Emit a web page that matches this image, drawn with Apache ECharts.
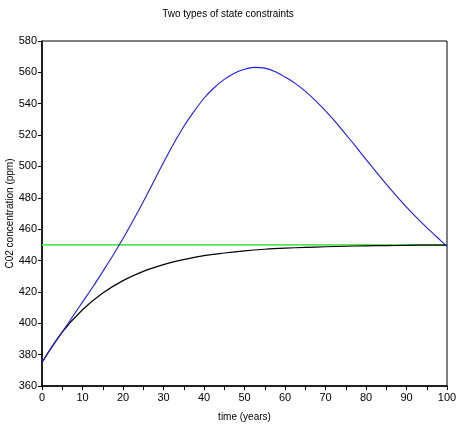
<!DOCTYPE html>
<html>
<head>
<meta charset="utf-8">
<script src="https://cdn.jsdelivr.net/npm/echarts@6/dist/echarts.min.js"></script>
<style>
  html, body { margin: 0; padding: 0; background: #fff; }
  #chart { width: 456px; height: 426px; }
</style>
</head>
<body>
<div id="chart"></div>
<script>
// values
var upperYears = [0, 2.5, 5, 7.5, 10, 12.5, 15, 17.5, 20, 22.5, 25, 27.5, 30, 32.5, 35, 37.5, 40, 42.5, 45, 47.5, 50,
                  52.5, 55, 57.5, 60, 62.5, 65, 67.5, 70, 72.5, 75, 77.5, 80, 82.5, 85, 87.5, 90, 92.5, 95, 97.5, 100];
var upperPath = [375, 385, 394.5, 404, 413.5, 423, 433, 443.2, 454, 465.5, 477.5, 490, 502.5, 514.5, 525.5, 535, 543.5, 550.2, 555.5, 559.5, 562,
                 563.2, 562.7, 560.5, 557, 553, 548, 542, 535.5, 528.3, 520.5, 512.6, 504.5, 496.5, 488.7, 481.2, 474, 467.3, 461, 455, 449];
var lowerYears = [0, 5, 10, 15, 20, 25, 30, 35, 40, 45, 50, 55, 60, 65, 70, 75, 80, 85, 90, 95, 100];
var lowerPath = [375, 394.3, 408.6, 419.3, 427.2, 433.1, 437.4, 440.6, 443.1, 444.8, 446.2, 447.2, 447.9, 448.4, 448.8, 449.1, 449.4, 449.5, 449.7, 449.8, 449.8];
var ceilingYears = [0, 100];
var ceiling = [450, 450];

function pairs(xs, ys) {
    var out = [];
    for (var i = 0; i < xs.length; i++) out.push([xs[i], ys[i]]);
    return out;
}

var myChart = echarts.init(document.getElementById('chart'));

var font = 'Liberation Sans, Arial, sans-serif';

option = {
    animation: false,
    title: {
        text: 'Two types of state constraints',
        left: 'center',
        top: 4,
        textStyle: { fontFamily: font, fontSize: 10, fontWeight: 'normal', color: '#000' }
    },
    grid: {
        left: 42,
        right: 9,
        top: 41,
        bottom: 40,
        outerBoundsMode: 'none',
        containLabel: false,
        show: true,
        borderColor: '#000',
        borderWidth: 1
    },
    xAxis: {
        type: 'value',
        min: 0,
        max: 100,
        interval: 5,
        name: 'time (years)',
        nameLocation: 'middle',
        nameGap: 26,
        nameMoveOverlap: false,
        nameTextStyle: { fontFamily: font, fontSize: 10, color: '#000' },
        axisLine: { lineStyle: { color: '#000', width: 1.5 } },
        axisTick: { length: 4, lineStyle: { color: '#000' } },
        axisLabel: {
            fontFamily: font, fontSize: 11, color: '#000', margin: 6,
            formatter: function (v) { return v % 10 === 0 ? String(v) : ''; }
        },
        splitLine: { show: false }
    },
    yAxis: {
        type: 'value',
        min: 360,
        max: 580,
        interval: 20,
        name: 'C02 concentration (ppm)',
        nameLocation: 'middle',
        nameGap: 27,
        nameMoveOverlap: false,
        nameTextStyle: { fontFamily: font, fontSize: 10, color: '#000' },
        axisLine: { lineStyle: { color: '#000', width: 1.5 } },
        axisTick: { length: 4, lineStyle: { color: '#000' } },
        axisLabel: { fontFamily: font, fontSize: 11, color: '#000', margin: 5 },
        splitLine: { show: false }
    },
    series: [
        {
            type: 'line',
            data: pairs(ceilingYears, ceiling),
            symbol: 'none',
            lineStyle: { color: '#55e655', width: 1.6 }
        },
        {
            type: 'line',
            data: pairs(lowerYears, lowerPath),
            symbol: 'none',
            smooth: 0.4,
            lineStyle: { color: '#000', width: 1.2 }
        },
        {
            type: 'line',
            data: pairs(upperYears, upperPath),
            symbol: 'none',
            smooth: 0.3,
            lineStyle: { color: '#1a1aff', width: 1.1 }
        }
    ]
};

myChart.setOption(option);
</script>
</body>
</html>
